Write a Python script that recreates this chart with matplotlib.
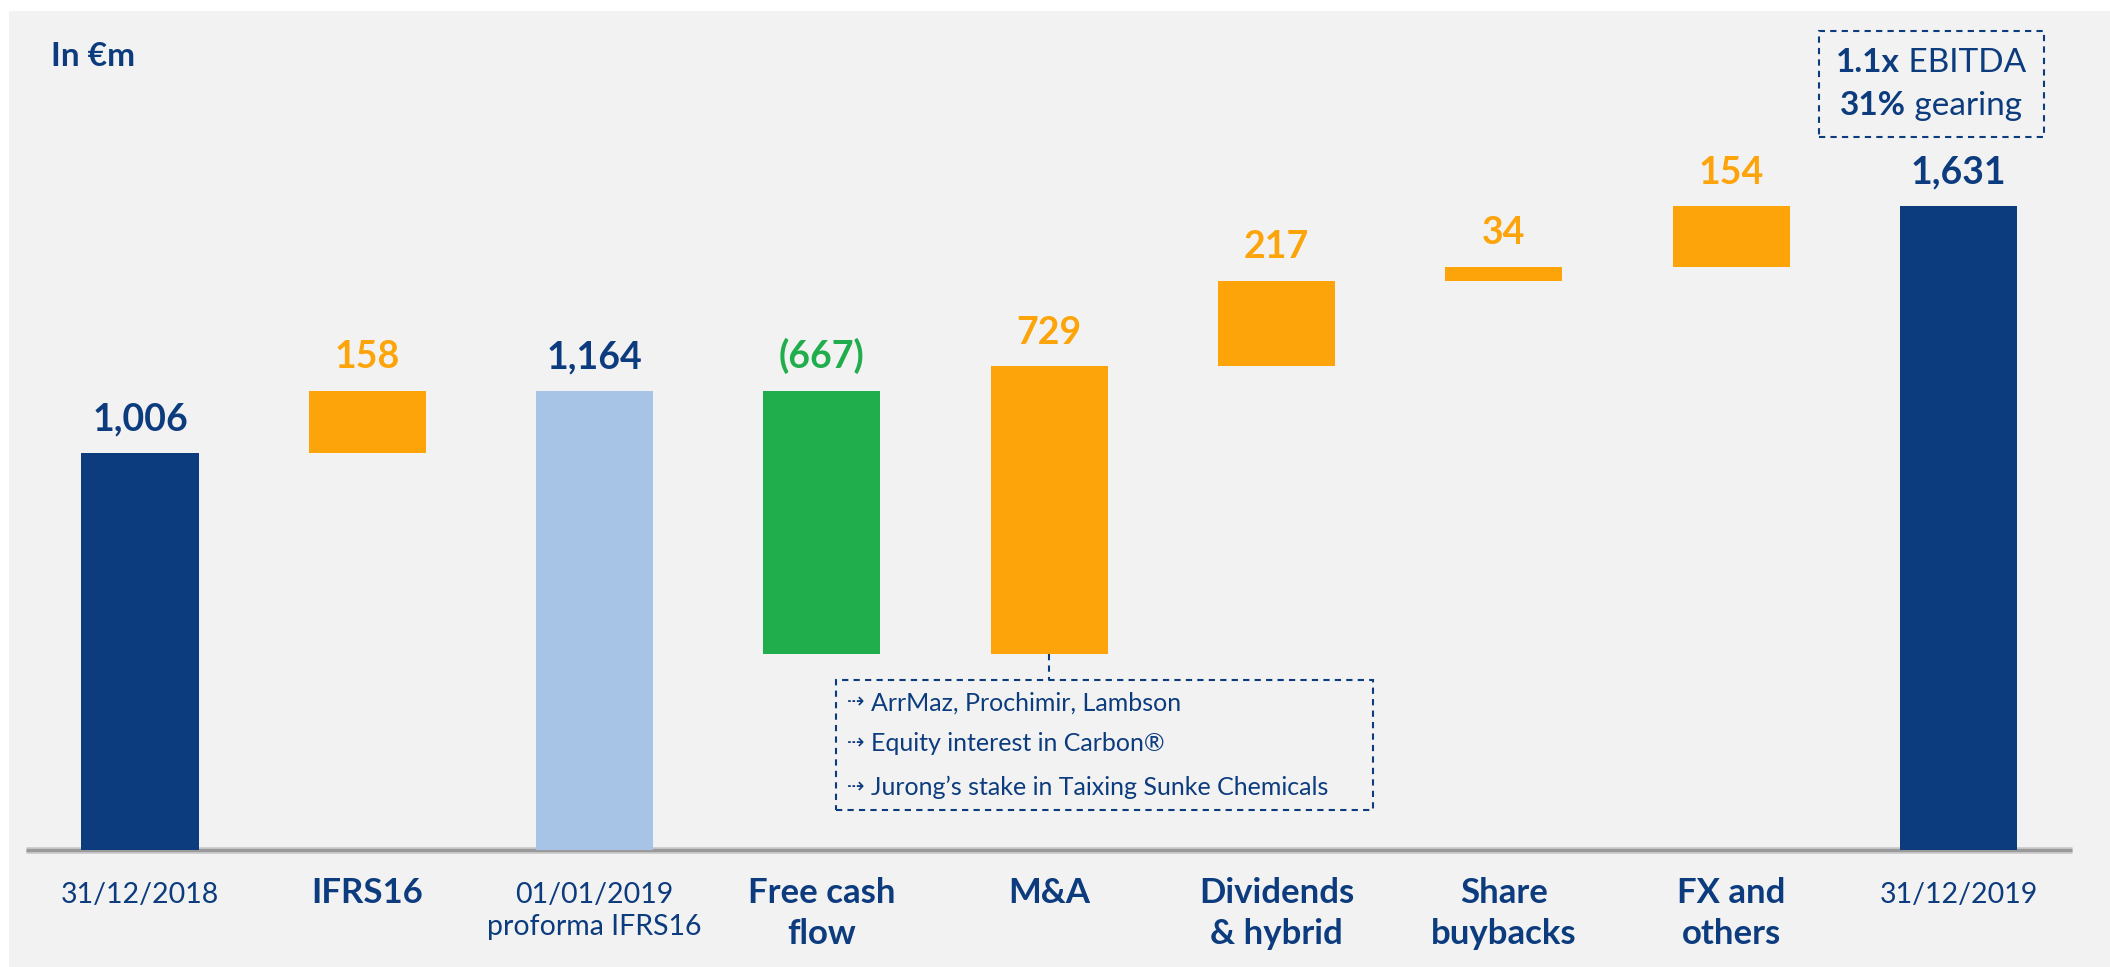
import matplotlib.pyplot as plt
from matplotlib.patches import Rectangle
from matplotlib.offsetbox import TextArea, HPacker, AnnotationBbox

# data (in EUR m)
categories = ["31/12/2018", "IFRS16", "01/01/2019\nproforma IFRS16", "Free cash\nflow",
              "M&A", "Dividends\n& hybrid", "Share\nbuybacks", "FX and\nothers", "31/12/2019"]
kinds = ["total", "delta", "total", "delta", "delta", "delta", "delta", "delta", "total"]
values = [1006, 158, 1164, -667, 729, 217, 34, 154, 1631]
labels = ["1,006", "158", "1,164", "(667)", "729", "217", "34", "154", "1,631"]
ma_items = ["ArrMaz, Prochimir, Lambson", "Equity interest in Carbon®",
            "Jurong\u2019s stake in Taixing Sunke Chemicals"]

NAVY = "#0c3c7e"
ORANGE = "#fca40a"
LIGHT = "#a7c4e6"
GREEN = "#20ad4c"
BG = "#f2f2f2"
FONT = ["Lato", "DejaVu Sans"]

plt.rcParams['font.family'] = FONT

fig = plt.figure(figsize=(21.1, 9.67), dpi=100, facecolor="white")
ax = fig.add_axes([0, 0, 1, 1])
ax.patch.set_alpha(0)
ax.axis("off")
ax.set_xlim(-0.616, 8.667)
ax.set_ylim(-296.5, 2154)
ax.add_patch(Rectangle((9 / 2110, 0), 1, 956 / 967, transform=ax.transAxes,
                       facecolor=BG, edgecolor="none", zorder=0))

# waterfall
running = 0
for i, (kind, v) in enumerate(zip(kinds, values)):
    if kind == "total":
        bottom, height = 0, v
        color = LIGHT if i == 2 else NAVY
        tcolor = NAVY
        running = v
    else:
        bottom, height = running, v
        color = ORANGE if v > 0 else GREEN
        tcolor = color
        running += v
    ax.bar(i, height, bottom=bottom, width=0.515, color=color, zorder=2)
    top = max(bottom, bottom + height)
    ax.annotate(labels[i], (i, top), xytext=(0, 12), textcoords="offset points",
                ha="center", va="bottom", fontsize=27, fontweight="bold", color=tcolor)
    if kind == "delta":
        ax.text(i, -68, categories[i], ha="center", va="top", color=NAVY,
                fontsize=25, fontweight="bold", linespacing=1.35)
    else:
        ax.text(i, -80, categories[i], ha="center", va="top", color=NAVY,
                fontsize=20.5, linespacing=1.3)

# baseline
ax.plot([-0.5, 8.5], [0, 0], color="#d0d0d0", lw=5, zorder=1, solid_capstyle="butt")
ax.plot([-0.5, 8.5], [0, 0], color="#9a9a9a", lw=2.5, zorder=1, solid_capstyle="butt")

# M&A detail box
ax.plot([4, 4], [497, 431], color=NAVY, lw=1.5, ls=(0, (3, 2.5)), zorder=3)
ax.add_patch(Rectangle((3.062, 101), 5.424 - 3.062, 431 - 101, facecolor="none",
                       edgecolor=NAVY, lw=1.5, ls=(0, (3, 2.5)), zorder=3))
for y, item in zip([373, 269, 158], ma_items):
    ax.text(3.11, y, "\u21e2", ha="left", va="center", color=NAVY, fontsize=15,
            family=["DejaVu Sans"])
    ax.text(3.215, y, item, ha="left", va="center", color=NAVY, fontsize=18)

# top-right box
ax.add_patch(Rectangle((7.387, 1807), 8.377 - 7.387, 2075 - 1807, facecolor="none",
                       edgecolor=NAVY, lw=1.5, ls=(0, (3, 2.5)), zorder=3))
for y, (b, r) in zip([1994, 1885], [("1.1x", " EBITDA"), ("31%", " gearing")]):
    box = HPacker(children=[
        TextArea(b, textprops=dict(fontsize=24, fontweight="bold", color=NAVY)),
        TextArea(r, textprops=dict(fontsize=24, color=NAVY))], pad=0, sep=0, align="baseline")
    ax.add_artist(AnnotationBbox(box, (7.88, y), frameon=False, box_alignment=(0.5, 0.5)))

fig.text(51 / 2110, 1 - 57 / 967, "In €m", ha="left", va="center", color=NAVY,
         fontsize=24, fontweight="bold")

fig.savefig("out.png", dpi=100, facecolor="white")
